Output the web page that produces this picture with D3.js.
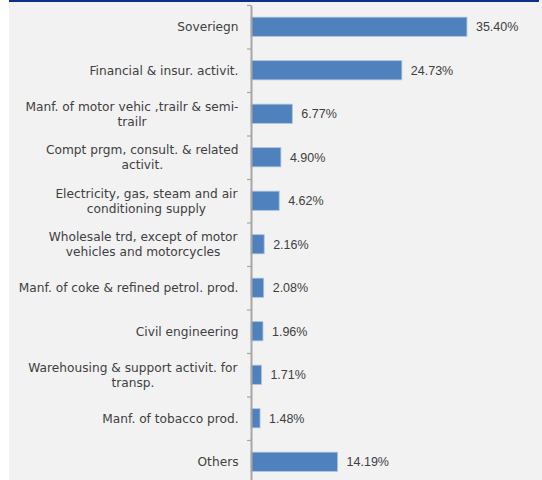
<!DOCTYPE html>
<html>
<head>
<meta charset="utf-8">
<script src="https://cdn.jsdelivr.net/npm/d3@7"></script>
<style>
  html, body { margin: 0; padding: 0; background: #ffffff; }
  svg { display: block; }
  text { font-family: "DejaVu Sans", sans-serif; fill: #404040; }
  .value { font-family: "Liberation Sans", Arial, sans-serif; }
</style>
</head>
<body>
<svg id="chart" width="542" height="480"></svg>
<script>
// Sector exposure shares (%), top ten sectors plus the remainder
const categories = [
  "Soveriegn",
  "Financial & insur. activit.",
  "Manf. of motor vehic ,trailr & semi-\ntrailr",
  "Compt prgm, consult. & related\nactivit.",
  "Electricity, gas, steam and air\nconditioning supply",
  "Wholesale trd, except of motor\nvehicles and motorcycles",
  "Manf. of coke & refined petrol. prod.",
  "Civil engineering",
  "Warehousing & support activit. for\ntransp.",
  "Manf. of tobacco prod.",
  "Others"
];
const shares = [35.40, 24.73, 6.77, 4.90, 4.62, 2.16, 2.08, 1.96, 1.71, 1.48, 14.19];
const shareLabels = ["35.40%", "24.73%", "6.77%", "4.90%", "4.62%", "2.16%", "2.08%", "1.96%", "1.71%", "1.48%", "14.19%"];

const W = 542, H = 480;
const svg = d3.select("#chart");

// panel background and top rule
svg.append("rect").attr("x", 9).attr("y", 0).attr("width", W - 9).attr("height", H).attr("fill", "#f2f2f2");
svg.append("rect").attr("x", 9).attr("y", 0).attr("width", 530).attr("height", 2).attr("fill", "#0a2f8c");

const plotTop = 5, plotBottom = 483.5, axisX = 251;

const x = d3.scaleLinear().domain([0, 40]).range([axisX, axisX + 244]);
const y = d3.scaleBand().domain(categories).range([plotTop, plotBottom])
  .paddingInner(0.56).paddingOuter(0.28);

const rows = categories.map((c, i) => ({ cat: c, value: shares[i], label: shareLabels[i] }));

// bars
svg.append("g").selectAll("rect").data(rows).join("rect")
  .attr("x", x(0))
  .attr("y", d => y(d.cat))
  .attr("width", d => x(d.value) - x(0))
  .attr("height", y.bandwidth())
  .attr("fill", "#4f81bd")
  .attr("stroke", "#a9c1df")
  .attr("stroke-width", 0.8);

// value labels
svg.append("g").selectAll("text").data(rows).join("text")
  .attr("class", "value")
  .attr("x", d => x(d.value) + 9)
  .attr("y", d => y(d.cat) + y.bandwidth() / 2)
  .attr("dy", "0.36em")
  .attr("font-size", 12.5)
  .text(d => d.label);

// category axis: ticks on band boundaries
const edge = d3.scaleLinear().domain([0, categories.length]).range([plotTop, plotBottom]);
const axis = svg.append("g").attr("transform", `translate(${axisX},0)`)
  .call(d3.axisLeft(edge).tickValues(d3.range(categories.length + 1)).tickSize(4).tickSizeOuter(0).tickFormat(""));
axis.select(".domain").attr("stroke", "#a6a6a6").attr("stroke-width", 2);
axis.selectAll(".tick line").attr("stroke", "#a6a6a6").attr("stroke-width", 1.2);

// category labels, wrapped lines centred as a block right-aligned beside the axis
const lineH = 15;
const labelG = svg.append("g");
rows.forEach(d => {
  const lines = d.cat.split("\n");
  const g = labelG.append("g");
  const cy = y(d.cat) + y.bandwidth() / 2;
  const t = g.append("text").attr("font-size", 12.2).attr("text-anchor", "middle");
  lines.forEach((ln, k) => {
    t.append("tspan").attr("x", 0)
      .attr("y", cy + (k - (lines.length - 1) / 2) * lineH)
      .attr("dy", "0.36em").text(ln);
  });
  const bb = t.node().getBBox();
  g.attr("transform", `translate(${238.5 - (bb.x + bb.width)},0)`);
});
</script>
</body>
</html>
